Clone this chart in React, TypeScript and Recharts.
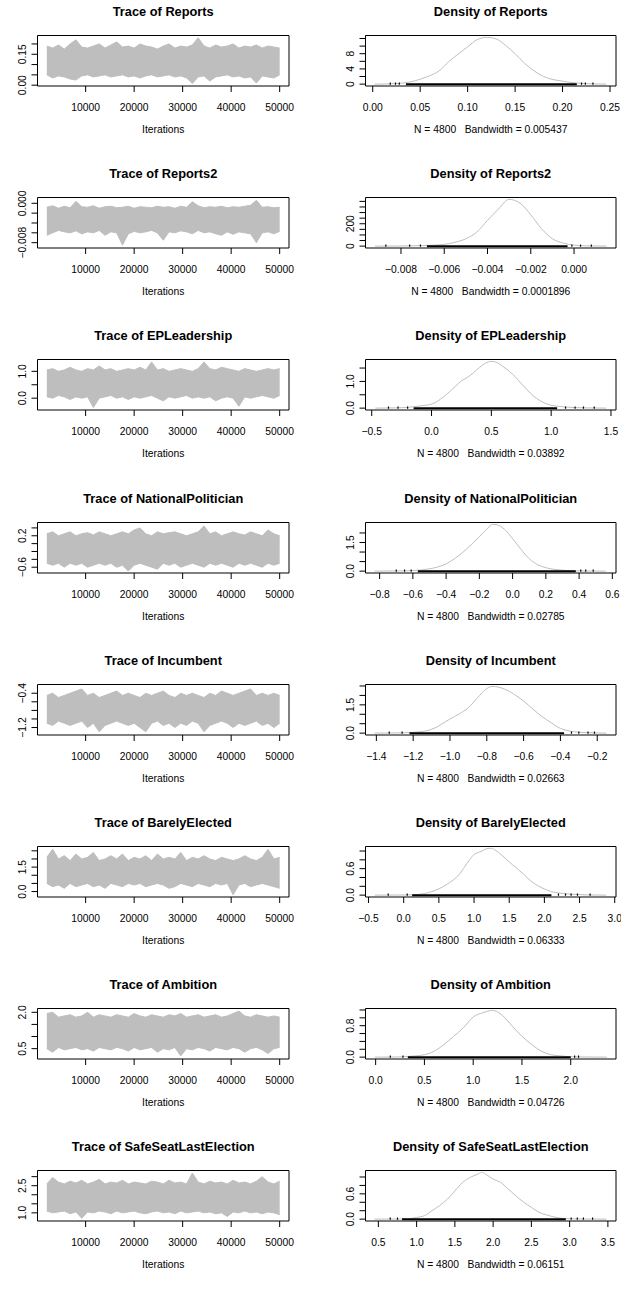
import React from "react";
import { ComposedChart, Area, Line, Scatter, XAxis, YAxis, ReferenceArea } from "recharts";

const FONT = "'Liberation Sans', Arial, Helvetica, sans-serif";
const GRAY = "#BEBEBE";

const iterations = [
  2000, 3200, 4400, 5600, 6800, 8000, 9200, 10400, 11600, 12800,
  14000, 15200, 16400, 17600, 18800, 20000, 21200, 22400, 23600, 24800,
  26000, 27200, 28400, 29600, 30800, 32000, 33200, 34400, 35600, 36800,
  38000, 39200, 40400, 41600, 42800, 44000, 45200, 46400, 47600, 48800,
  50000,
];
const iterTicks = [10000, 20000, 30000, 40000, 50000];
const iterLabels = ["10000", "20000", "30000", "40000", "50000"];

// ---- Reports
const reportsHi = [
  0.19, 0.18, 0.195, 0.175, 0.2, 0.22, 0.185, 0.18, 0.19, 0.2,
  0.18, 0.195, 0.21, 0.185, 0.19, 0.18, 0.2, 0.19, 0.185, 0.175,
  0.19, 0.2, 0.18, 0.19, 0.185, 0.195, 0.23, 0.19, 0.18, 0.195,
  0.185, 0.19, 0.2, 0.18, 0.19, 0.185, 0.195, 0.18, 0.19, 0.185,
  0.18,
];
const reportsLo = [
  0.05, 0.035, 0.045, 0.04, 0.03, 0.025, 0.045, 0.05, 0.04, 0.045,
  0.05, 0.04, 0.045, 0.05, 0.04, 0.045, 0.035, 0.045, 0.05, 0.04,
  0.045, 0.05, 0.04, 0.045, 0.035, 0.008, 0.04, 0.045, 0.02, 0.04,
  0.045, 0.05, 0.04, 0.045, 0.035, 0.04, 0.01, 0.045, 0.04, 0.035,
  0.05,
];
const reportsDensX = [0.002, 0.01, 0.02, 0.03, 0.04, 0.05, 0.06, 0.07, 0.08, 0.09, 0.1, 0.11, 0.12, 0.13, 0.14, 0.15, 0.16, 0.17, 0.18, 0.19, 0.2, 0.21, 0.22, 0.23, 0.24, 0.246];
const reportsDensY = [0, 0.02, 0.08, 0.25, 0.6, 1.3, 2.2, 3.5, 5.9, 7.9, 9.8, 11.7, 12.3, 11.9, 10.2, 8.0, 5.5, 3.5, 2.0, 1.2, 0.8, 0.4, 0.2, 0.08, 0.02, 0];

// ---- Reports2
const reports2Hi = [
  -0.0008, -0.0005, -0.001, -0.0006, -0.0009, 0.0004, -0.0007, -0.0008, -0.0005, -0.001,
  -0.0007, -0.0006, -0.0009, -0.0008, -0.0006, -0.001, -0.0007, -0.0008, -0.0009, -0.0006,
  -0.0008, -0.0007, -0.001, -0.0006, -0.0008, 0.0003, -0.0005, -0.0009, -0.0007, -0.0008,
  -0.0006, -0.0009, -0.0007, -0.0008, -0.0006, -0.0004, 0.0006, -0.0008, -0.0007, -0.0009,
  -0.0008,
];
const reports2Lo = [
  -0.0065, -0.006, -0.0055, -0.0058, -0.006, -0.0056, -0.0062, -0.0058, -0.006, -0.0055,
  -0.0065, -0.0058, -0.006, -0.0085, -0.0062, -0.0057, -0.006, -0.0058, -0.0055, -0.006,
  -0.0075, -0.0058, -0.006, -0.0056, -0.0058, -0.0062, -0.0055, -0.006, -0.0058, -0.0062,
  -0.0065, -0.0058, -0.0063, -0.0058, -0.006, -0.0062, -0.008, -0.006, -0.0058, -0.0062,
  -0.0057,
];
const reports2DensX = [-0.0092, -0.008, -0.007, -0.006, -0.0055, -0.005, -0.0045, -0.004, -0.0035, -0.003, -0.0025, -0.002, -0.0015, -0.001, -0.0005, 0.0, 0.0005, 0.0015];
const reports2DensY = [0, 1, 5, 15, 35, 66, 125, 230, 330, 418, 385, 280, 155, 66, 27, 9, 3, 0];

// ---- EPLeadership
const eplHi = [
  1.05, 1.1, 1.0, 1.05, 1.15, 1.05, 1.0, 1.1, 1.05, 1.2,
  1.05, 1.1, 1.0, 1.05, 1.1, 1.05, 1.15, 1.05, 1.35, 1.05,
  1.1, 1.0, 1.05, 1.1, 1.05, 1.0, 1.1, 1.35, 1.1, 1.05,
  1.15, 1.1, 1.05, 1.0, 1.1, 1.05, 1.0, 1.05, 1.1, 1.05,
  1.1,
];
const eplLo = [
  0.05, 0.0, 0.1, 0.05, -0.05, 0.05, 0.0, 0.05, -0.35, 0.0,
  0.05, 0.1, 0.0, 0.05, -0.05, 0.05, 0.0, 0.05, 0.1, 0.0,
  -0.1, 0.05, 0.0, 0.05, 0.1, 0.0, 0.05, 0.0, 0.05, -0.1,
  0.0, 0.05, 0.0, -0.3, 0.05, 0.0, 0.05, 0.1, 0.05, 0.0,
  0.1,
];
const eplDensX = [-0.47, -0.3, -0.2, -0.1, 0.0, 0.1, 0.2, 0.25, 0.3, 0.35, 0.4, 0.45, 0.5, 0.55, 0.6, 0.65, 0.7, 0.75, 0.8, 0.85, 0.9, 0.95, 1.0, 1.1, 1.2, 1.3, 1.46];
const eplDensY = [0, 0.01, 0.03, 0.08, 0.15, 0.42, 0.82, 1.02, 1.15, 1.32, 1.52, 1.68, 1.75, 1.7, 1.55, 1.38, 1.17, 0.92, 0.68, 0.46, 0.3, 0.18, 0.11, 0.05, 0.02, 0.01, 0];

// ---- NationalPolitician
const npHi = [
  0.25, 0.3, 0.2, 0.25, 0.3, 0.2, 0.25, 0.28, 0.22, 0.3,
  0.25, 0.2, 0.25, 0.3, 0.25, 0.35, 0.4, 0.25, 0.2, 0.3,
  0.25, 0.28, 0.3, 0.25, 0.2, 0.25, 0.3, 0.45, 0.25, 0.3,
  0.2, 0.25, 0.3, 0.25, 0.22, 0.3, 0.25, 0.2, 0.35, 0.25,
  0.2,
];
const npLo = [
  -0.5, -0.55, -0.5, -0.6, -0.5, -0.55, -0.5, -0.6, -0.55, -0.5,
  -0.55, -0.5, -0.6, -0.55, -0.7, -0.55, -0.5, -0.55, -0.6, -0.65,
  -0.5, -0.55, -0.5, -0.6, -0.55, -0.5, -0.55, -0.6, -0.5, -0.55,
  -0.5, -0.55, -0.6, -0.5, -0.55, -0.5, -0.55, -0.6, -0.5, -0.55,
  -0.5,
];
const npDensX = [-0.83, -0.7, -0.6, -0.5, -0.45, -0.4, -0.35, -0.3, -0.25, -0.2, -0.15, -0.12, -0.1, -0.05, 0.0, 0.05, 0.1, 0.15, 0.2, 0.3, 0.4, 0.56];
const npDensY = [0, 0.01, 0.03, 0.12, 0.22, 0.38, 0.65, 0.98, 1.38, 1.8, 2.25, 2.45, 2.44, 2.2, 1.7, 1.15, 0.65, 0.34, 0.18, 0.05, 0.01, 0];

// ---- Incumbent
const incHi = [
  -0.45, -0.4, -0.5, -0.45, -0.4, -0.35, -0.3, -0.45, -0.4, -0.5,
  -0.45, -0.4, -0.35, -0.45, -0.4, -0.45, -0.5, -0.4, -0.45, -0.4,
  -0.35, -0.45, -0.5, -0.4, -0.45, -0.4, -0.45, -0.5, -0.4, -0.45,
  -0.35, -0.4, -0.45, -0.4, -0.35, -0.3, -0.45, -0.4, -0.45, -0.4,
  -0.45,
];
const incLo = [
  -1.1, -1.15, -1.05, -1.1, -1.15, -1.1, -1.05, -1.2, -1.1, -1.3,
  -1.15, -1.1, -1.05, -1.1, -1.15, -1.1, -1.2, -1.3, -1.1, -1.05,
  -1.15, -1.1, -1.2, -1.1, -1.15, -1.05, -1.1, -1.3, -1.15, -1.1,
  -1.05, -1.1, -1.2, -1.1, -1.15, -1.1, -1.05, -1.15, -1.1, -1.2,
  -1.1,
];
const incDensX = [-1.41, -1.3, -1.2, -1.1, -1.0, -0.95, -0.9, -0.85, -0.8, -0.77, -0.7, -0.65, -0.6, -0.55, -0.5, -0.45, -0.4, -0.3, -0.2, -0.15];
const incDensY = [0, 0.01, 0.04, 0.2, 0.75, 1.02, 1.35, 1.88, 2.36, 2.48, 2.32, 2.05, 1.7, 1.28, 0.88, 0.55, 0.25, 0.05, 0.01, 0];

// ---- BarelyElected
const beHi = [
  2.1, 2.6, 2.0, 2.2, 1.9, 2.3, 2.0, 2.1, 2.4, 1.9,
  2.0, 2.2, 2.0, 2.3, 1.9, 2.1, 2.0, 2.2, 1.9, 2.3,
  2.0, 2.1, 2.0, 2.4, 1.9, 2.1, 2.0, 2.2, 2.0, 1.9,
  2.1, 2.0, 1.9, 2.0, 2.2, 2.0, 1.9, 2.1, 2.6, 2.0,
  2.1,
];
const beLo = [
  0.5, 0.3, 0.4, 0.2, 0.5, 0.3, 0.4, 0.5, 0.3, 0.4,
  0.2, 0.5, 0.4, 0.3, 0.5, 0.4, 0.5, 0.3, 0.4, 0.5,
  0.4, 0.2, 0.3, 0.5, 0.4, 0.3, 0.5, 0.4, 0.3, 0.5,
  0.4, 0.5, -0.2, 0.4, 0.5, 0.3, 0.4, 0.5, 0.4, 0.3,
  0.2,
];
const beDensX = [-0.41, 0.0, 0.2, 0.4, 0.6, 0.8, 0.9, 1.0, 1.1, 1.2, 1.25, 1.3, 1.4, 1.5, 1.6, 1.7, 1.8, 1.9, 2.0, 2.1, 2.2, 2.4, 2.6, 2.88];
const beDensY = [0, 0.003, 0.015, 0.08, 0.23, 0.49, 0.72, 0.92, 0.99, 1.06, 1.06, 1.02, 0.9, 0.75, 0.62, 0.48, 0.33, 0.22, 0.14, 0.08, 0.05, 0.02, 0.005, 0];

// ---- Ambition
const ambHi = [
  1.95, 2.0, 1.8, 1.85, 1.9, 1.8, 1.85, 2.0, 1.8, 1.9,
  1.85, 1.8, 1.9, 1.85, 1.8, 1.95, 1.85, 1.8, 1.9, 1.85,
  1.8, 1.9, 1.85, 1.95, 1.8, 1.85, 1.9, 1.8, 1.85, 1.9,
  1.8, 1.85, 1.95, 2.05, 1.85, 1.8, 1.9, 1.85, 1.8, 1.85,
  1.8,
];
const ambLo = [
  0.5, 0.35, 0.55, 0.45, 0.5, 0.55, 0.45, 0.5, 0.4, 0.55,
  0.5, 0.45, 0.55, 0.5, 0.4, 0.55, 0.45, 0.5, 0.55, 0.35,
  0.5, 0.45, 0.55, 0.2, 0.5, 0.45, 0.55, 0.5, 0.4, 0.55,
  0.5, 0.45, 0.55, 0.5, 0.35, 0.5, 0.55, 0.45, 0.3, 0.5,
  0.55,
];
const ambDensX = [-0.01, 0.2, 0.3, 0.4, 0.5, 0.6, 0.7, 0.8, 0.9, 1.0, 1.1, 1.2, 1.3, 1.4, 1.5, 1.6, 1.7, 1.8, 1.9, 2.0, 2.1, 2.37];
const ambDensY = [0, 0.003, 0.01, 0.03, 0.06, 0.15, 0.32, 0.53, 0.75, 1.02, 1.13, 1.19, 1.06, 0.79, 0.53, 0.32, 0.15, 0.06, 0.03, 0.01, 0.005, 0];

// ---- SafeSeatLastElection
const ssHi = [
  2.6, 2.95, 2.7, 2.6, 2.75, 2.65, 2.8, 2.6, 2.7, 2.85,
  2.6, 2.7, 2.65, 2.8, 2.6, 2.7, 2.65, 2.6, 2.75, 2.7,
  2.6, 2.8, 2.65, 2.7, 2.6, 3.2, 2.7, 2.6, 2.75, 2.65,
  2.7, 2.6, 2.8, 2.65, 2.7, 2.6, 2.75, 3.0, 2.7, 2.6,
  2.75,
];
const ssLo = [
  1.1, 1.0, 1.05, 1.1, 0.95, 1.05, 0.7, 1.05, 1.0, 1.1,
  1.05, 0.95, 1.1, 1.0, 1.05, 1.1, 1.0, 0.95, 1.05, 1.1,
  1.0, 1.05, 0.95, 1.1, 1.0, 1.05, 1.1, 1.0, 1.05, 0.95,
  1.0, 0.8, 1.05, 1.0, 1.1, 1.0, 1.05, 0.95, 1.05, 1.0,
  0.9,
];
const ssDensX = [0.45, 0.8, 0.9, 1.0, 1.1, 1.2, 1.3, 1.4, 1.5, 1.6, 1.7, 1.8, 1.85, 1.9, 2.0, 2.1, 2.2, 2.3, 2.4, 2.5, 2.6, 2.7, 2.8, 2.9, 3.0, 3.2, 3.48];
const ssDensY = [0, 0.003, 0.01, 0.04, 0.08, 0.2, 0.32, 0.47, 0.67, 0.87, 0.99, 1.07, 1.11, 1.07, 0.95, 0.87, 0.71, 0.55, 0.4, 0.28, 0.16, 0.1, 0.05, 0.02, 0.01, 0.003, 0];

const M = "\u2212";

const params = [
  {
    name: "Reports", bw: "0.005437", hi: reportsHi, lo: reportsLo,
    traceY: [-0.004, 0.241], traceTicks: [0, 0.05, 0.1, 0.15, 0.2], traceLabels: ["0.00", "", "", "0.15", ""],
    densX: reportsDensX, densY: reportsDensY, densDomain: [-0.0076, 0.2563],
    densXTicks: [0, 0.05, 0.1, 0.15, 0.2, 0.25], densXLabels: ["0.00", "0.05", "0.10", "0.15", "0.20", "0.25"],
    densYTicks: [0, 2, 4, 6, 8, 10, 12], densYLabels: ["0", "", "4", "", "8", "", ""],
    rugDense: [0.035, 0.215], rugSparse: [0.0185, 0.024, 0.028, 0.22, 0.224, 0.232],
  },
  {
    name: "Reports2", bw: "0.0001896", hi: reports2Hi, lo: reports2Lo,
    traceY: [-0.00908, 0.00118], traceTicks: [-0.008, -0.006, -0.004, -0.002, 0], traceLabels: [M + "0.008", "", "", "", "0.000"],
    densX: reports2DensX, densY: reports2DensY, densDomain: [-0.00964, 0.00194],
    densXTicks: [-0.008, -0.006, -0.004, -0.002, 0], densXLabels: [M + "0.008", M + "0.006", M + "0.004", M + "0.002", "0.000"],
    densYTicks: [0, 50, 100, 150, 200, 250, 300, 350, 400], densYLabels: ["0", "", "", "", "200", "", "", "", ""],
    rugDense: [-0.0068, -0.0003], rugSparse: [-0.0087, -0.0076, -0.0071, -0.0001, 0.0003, 0.0008],
  },
  {
    name: "EPLeadership", bw: "0.03892", hi: eplHi, lo: eplLo,
    traceY: [-0.44, 1.44], traceTicks: [0, 0.5, 1.0], traceLabels: ["0.0", "", "1.0"],
    densX: eplDensX, densY: eplDensY, densDomain: [-0.552, 1.542],
    densXTicks: [-0.5, 0, 0.5, 1.0, 1.5], densXLabels: [M + "0.5", "0.0", "0.5", "1.0", "1.5"],
    densYTicks: [0, 0.5, 1.0, 1.5], densYLabels: ["0.0", "", "1.0", ""],
    rugDense: [-0.15, 1.05], rugSparse: [-0.36, -0.28, -0.2, 1.12, 1.2, 1.27, 1.36],
  },
  {
    name: "NationalPolitician", bw: "0.02785", hi: npHi, lo: npLo,
    traceY: [-0.748, 0.538], traceTicks: [-0.6, -0.4, -0.2, 0, 0.2, 0.4], traceLabels: [M + "0.6", "", "", "", "0.2", ""],
    densX: npDensX, densY: npDensY, densDomain: [-0.885, 0.622],
    densXTicks: [-0.8, -0.6, -0.4, -0.2, 0, 0.2, 0.4, 0.6],
    densXLabels: [M + "0.8", M + "0.6", M + "0.4", M + "0.2", "0.0", "0.2", "0.4", "0.6"],
    densYTicks: [0, 0.5, 1.0, 1.5, 2.0], densYLabels: ["0.0", "", "", "1.5", ""],
    rugDense: [-0.57, 0.38], rugSparse: [-0.7, -0.65, -0.61, 0.41, 0.44, 0.485],
  },
  {
    name: "Incumbent", bw: "0.02663", hi: incHi, lo: incLo,
    traceY: [-1.374, -0.196], traceTicks: [-1.2, -1.0, -0.8, -0.6, -0.4], traceLabels: [M + "1.2", "", "", "", M + "0.4"],
    densX: incDensX, densY: incDensY, densDomain: [-1.459, -0.098],
    densXTicks: [-1.4, -1.2, -1.0, -0.8, -0.6, -0.4, -0.2],
    densXLabels: [M + "1.4", M + "1.2", M + "1.0", M + "0.8", M + "0.6", M + "0.4", M + "0.2"],
    densYTicks: [0, 0.5, 1.0, 1.5, 2.0, 2.5], densYLabels: ["0.0", "", "", "1.5", "", ""],
    rugDense: [-1.22, -0.38], rugSparse: [-1.33, -1.26, -0.34, -0.3, -0.25, -0.215],
  },
  {
    name: "BarelyElected", bw: "0.06333", hi: beHi, lo: beLo,
    traceY: [-0.335, 2.765], traceTicks: [0, 0.5, 1.0, 1.5, 2.0, 2.5], traceLabels: ["0.0", "", "", "1.5", "", ""],
    densX: beDensX, densY: beDensY, densDomain: [-0.543, 3.018],
    densXTicks: [-0.5, 0, 0.5, 1.0, 1.5, 2.0, 2.5, 3.0],
    densXLabels: [M + "0.5", "0.0", "0.5", "1.0", "1.5", "2.0", "2.5", "3.0"],
    densYTicks: [0, 0.2, 0.4, 0.6, 0.8, 1.0], densYLabels: ["0.0", "", "", "0.6", "", ""],
    rugDense: [0.12, 2.1], rugSparse: [-0.22, 0.05, 2.2, 2.3, 2.38, 2.47, 2.65],
  },
  {
    name: "Ambition", bw: "0.04726", hi: ambHi, lo: ambLo,
    traceY: [0.073, 2.157], traceTicks: [0.5, 1.0, 1.5, 2.0], traceLabels: ["0.5", "", "", "2.0"],
    densX: ambDensX, densY: ambDensY, densDomain: [-0.104, 2.464],
    densXTicks: [0, 0.5, 1.0, 1.5, 2.0], densXLabels: ["0.0", "0.5", "1.0", "1.5", "2.0"],
    densYTicks: [0, 0.2, 0.4, 0.6, 0.8, 1.0, 1.2], densYLabels: ["0.0", "", "", "", "0.8", "", ""],
    rugDense: [0.33, 2.0], rugSparse: [0.15, 0.28, 2.04, 2.08],
  },
  {
    name: "SafeSeatLastElection", bw: "0.06151", hi: ssHi, lo: ssLo,
    traceY: [0.55, 3.34], traceTicks: [1.0, 1.5, 2.0, 2.5, 3.0], traceLabels: ["1.0", "", "", "2.5", ""],
    densX: ssDensX, densY: ssDensY, densDomain: [0.332, 3.606],
    densXTicks: [0.5, 1.0, 1.5, 2.0, 2.5, 3.0, 3.5], densXLabels: ["0.5", "1.0", "1.5", "2.0", "2.5", "3.0", "3.5"],
    densYTicks: [0, 0.2, 0.4, 0.6, 0.8, 1.0], densYLabels: ["0.0", "", "", "0.6", "", ""],
    rugDense: [0.81, 2.95], rugSparse: [0.655, 0.75, 3.02, 3.1, 3.18, 3.3],
  },
];

// layout (pixels)
const ROW_H = 162.2;
const PANEL_W = 311;
const PANEL_H = 162;
const BOX_TOP = 35.5;
const BOX_BOTTOM = 86;
const X_AXIS_H = 30;
const Y_AXIS_W = 30;
const TRACE_L = 37.5;
const TRACE_R = 289;
const DENS_LEFT = 310;
const DENS_L = 55.5;
const DENS_R = 306;
const ITER_DOMAIN = [80, 51920];
const TICK_FS = 10.3;

const xTick = (ticks: number[], labels: string[]) => (props: any) => {
  const { x, payload, index } = props;
  let i = ticks.indexOf(payload.value);
  if (i < 0) i = index;
  return (
    <text x={x} y={BOX_BOTTOM + 24.5} textAnchor="middle" fontSize={TICK_FS} fontFamily={FONT} fill="#000">
      {labels[i]}
    </text>
  );
};

const yTick = (ticks: number[], labels: string[], boxL: number) => (props: any) => {
  const { y, payload, index } = props;
  let i = ticks.indexOf(payload.value);
  if (i < 0) i = index;
  const lab = labels[i];
  if (!lab) return <g />;
  const x = boxL - 11.5;
  return (
    <text x={x} y={y} transform={`rotate(-90 ${x} ${y})`} textAnchor="middle" fontSize={TICK_FS} fontFamily={FONT} fill="#000">
      {lab}
    </text>
  );
};

function TracePanel({ p, top }: { p: any; top: number }) {
  const rows = iterations.map((x, i) => ({ x, band: [p.lo[i], p.hi[i]] }));
  return (
    <div style={{ position: "absolute", left: 0, top, width: PANEL_W, height: PANEL_H }}>
      <ComposedChart
        width={PANEL_W}
        height={PANEL_H}
        data={rows}
        margin={{ top: BOX_TOP, bottom: PANEL_H - BOX_BOTTOM - X_AXIS_H, left: TRACE_L - Y_AXIS_W, right: PANEL_W - TRACE_R }}
        style={{ overflow: "visible" }}
      >
        <XAxis type="number" dataKey="x" domain={ITER_DOMAIN} ticks={iterTicks} allowDataOverflow height={X_AXIS_H}
          axisLine={false} tickLine={{ stroke: "#000" }} tickSize={6} interval={0} tick={xTick(iterTicks, iterLabels)} />
        <YAxis type="number" domain={p.traceY} ticks={p.traceTicks} allowDataOverflow width={Y_AXIS_W}
          axisLine={false} tickLine={{ stroke: "#000" }} tickSize={6} interval={0} tick={yTick(p.traceTicks, p.traceLabels, TRACE_L)} />
        <Area type="linear" dataKey="band" stroke={GRAY} strokeWidth={1} fill={GRAY} fillOpacity={1}
          dot={false} activeDot={false} isAnimationActive={false} />
        <ReferenceArea x1={ITER_DOMAIN[0]} x2={ITER_DOMAIN[1]} y1={p.traceY[0]} y2={p.traceY[1]}
          fill="#fff" fillOpacity={0} stroke="#000" strokeWidth={1} />
      </ComposedChart>
    </div>
  );
}

function DensityPanel({ p, top }: { p: any; top: number }) {
  const rows = p.densX.map((x: number, i: number) => ({ x, y: p.densY[i] }));
  const peak = Math.max(...p.densY);
  const yDomain = [-0.04 * peak, 1.04 * peak];
  const rug = p.rugDense.map((x: number) => ({ x, y: 0 }));
  const sparse = p.rugSparse.map((x: number) => ({ x, y: 0 }));
  return (
    <div style={{ position: "absolute", left: DENS_LEFT, top, width: PANEL_W, height: PANEL_H }}>
      <ComposedChart
        width={PANEL_W}
        height={PANEL_H}
        data={rows}
        margin={{ top: BOX_TOP, bottom: PANEL_H - BOX_BOTTOM - X_AXIS_H, left: DENS_L - Y_AXIS_W, right: PANEL_W - DENS_R }}
        style={{ overflow: "visible" }}
      >
        <XAxis type="number" dataKey="x" domain={p.densDomain} ticks={p.densXTicks} allowDataOverflow height={X_AXIS_H}
          axisLine={false} tickLine={{ stroke: "#000" }} tickSize={6} interval={0} tick={xTick(p.densXTicks, p.densXLabels)} />
        <YAxis type="number" dataKey="y" domain={yDomain} ticks={p.densYTicks} allowDataOverflow width={Y_AXIS_W}
          axisLine={false} tickLine={{ stroke: "#000" }} tickSize={6} interval={0} tick={yTick(p.densYTicks, p.densYLabels, DENS_L)} />
        <Line type="monotone" dataKey="y" stroke={GRAY} strokeWidth={1} dot={false} activeDot={false} isAnimationActive={false} />
        <Line data={rug} type="linear" dataKey="y" stroke="#000" strokeWidth={2} dot={false} activeDot={false} isAnimationActive={false} />
        <Scatter data={sparse} dataKey="y" isAnimationActive={false}
          shape={(s: any) => <rect x={s.cx - 0.6} y={s.cy - 1.6} width={1.2} height={2.2} fill="#000" />} />
        <ReferenceArea x1={p.densDomain[0]} x2={p.densDomain[1]} y1={yDomain[0]} y2={yDomain[1]}
          fill="#fff" fillOpacity={0} stroke="#000" strokeWidth={1} />
      </ComposedChart>
    </div>
  );
}

const TRACE_CX = (TRACE_L + TRACE_R) / 2;
const DENS_CX = DENS_LEFT + (DENS_L + DENS_R) / 2;

export default function App() {
  return (
    <div style={{ position: "absolute", left: 0, top: 0, width: 621, height: 1289, background: "#fff", overflow: "hidden" }}>
      {params.map((p, r) => (
        <React.Fragment key={p.name}>
          <TracePanel p={p} top={r * ROW_H} />
          <DensityPanel p={p} top={r * ROW_H} />
        </React.Fragment>
      ))}
      <svg width={621} height={1289} style={{ position: "absolute", left: 0, top: 0, pointerEvents: "none" }}>
        {params.map((p, r) => (
          <g key={p.name} fontFamily={FONT} fill="#000">
            <text x={TRACE_CX} y={r * ROW_H + 16} textAnchor="middle" fontSize={12.8} fontWeight="bold">
              {"Trace of " + p.name}
            </text>
            <text x={DENS_CX} y={r * ROW_H + 16} textAnchor="middle" fontSize={12.8} fontWeight="bold">
              {"Density of " + p.name}
            </text>
            <text x={TRACE_CX} y={r * ROW_H + 133} textAnchor="middle" fontSize={TICK_FS}>
              Iterations
            </text>
            <text x={DENS_CX} y={r * ROW_H + 133} textAnchor="middle" fontSize={TICK_FS} style={{ whiteSpace: "pre" }}>
              {"N = 4800   Bandwidth = " + p.bw}
            </text>
          </g>
        ))}
      </svg>
    </div>
  );
}
